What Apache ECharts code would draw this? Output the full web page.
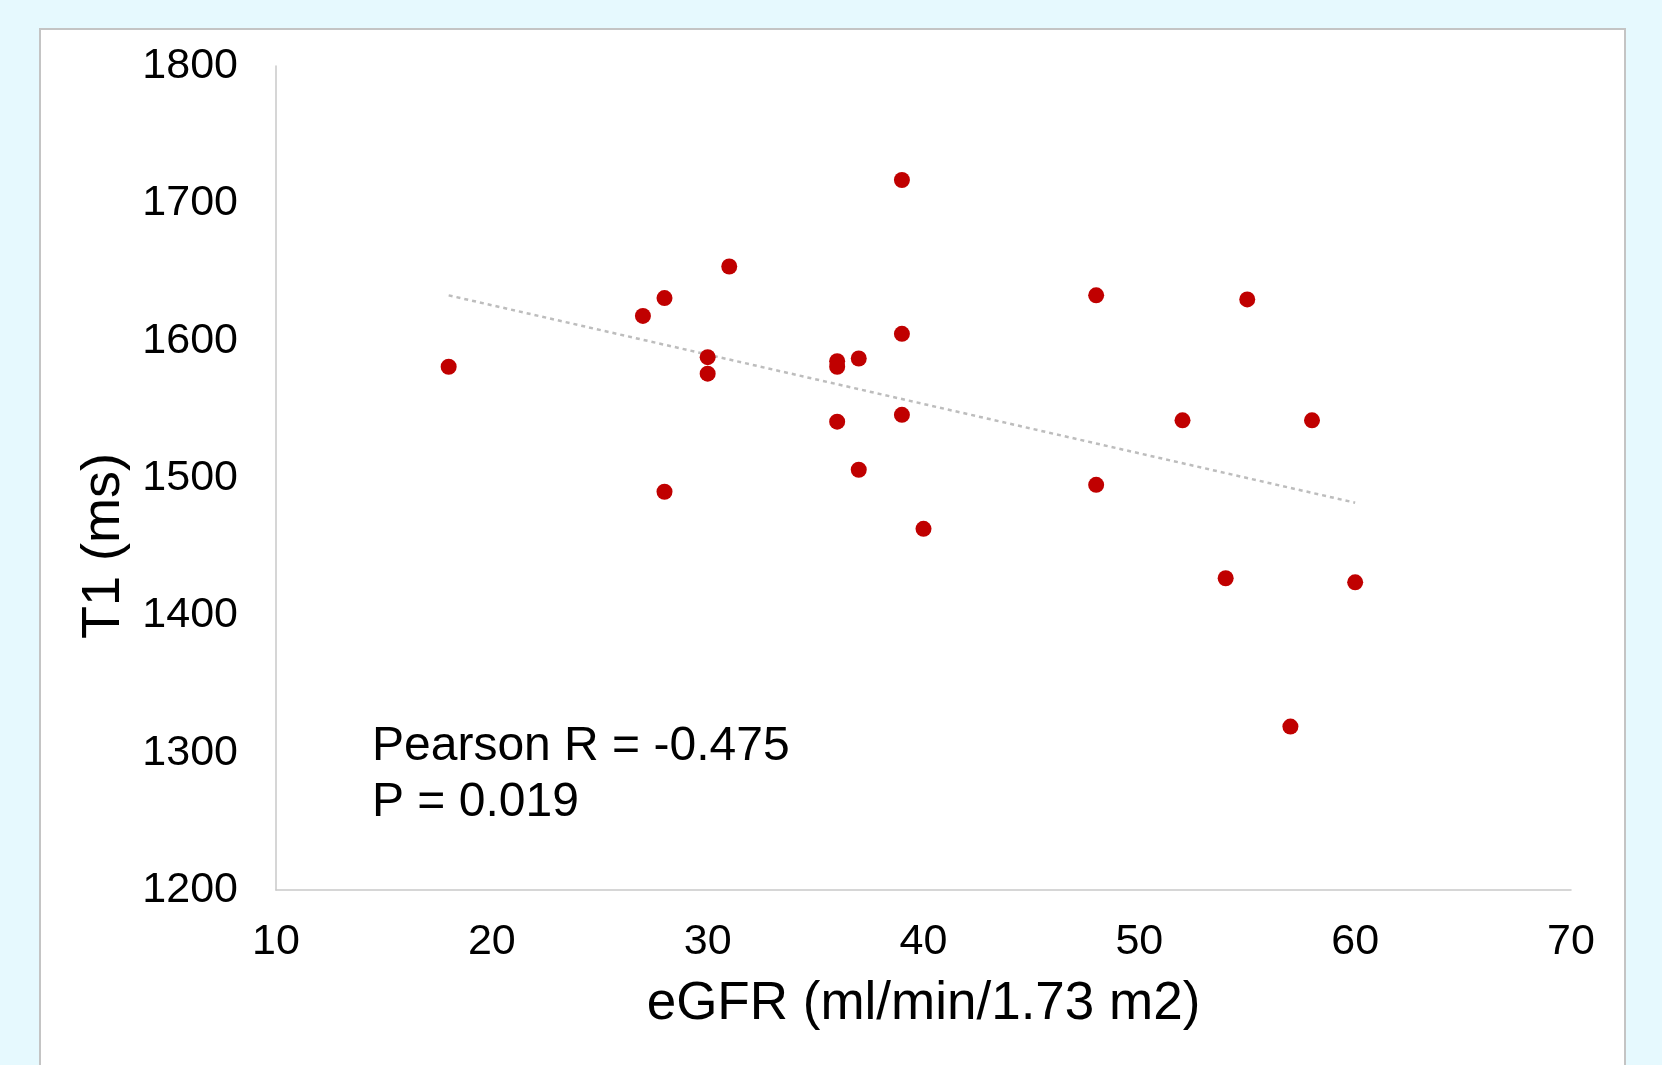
<!DOCTYPE html>
<html>
<head>
<meta charset="utf-8">
<title>T1 vs eGFR</title>
<script src="https://cdn.jsdelivr.net/npm/echarts@6/dist/echarts.min.js"></script>
<style>
    html, body { margin: 0; padding: 0; background: #e6f9fe; }
    #container { width: 1662px; height: 1065px; }
</style>
</head>
<body>
<div id="container"></div>
<script>
    // eGFR (x) and T1 (y) for each patient
    const eGFR = [18, 27, 28, 28, 31, 30, 30, 36, 36, 37, 36, 37, 39, 39, 39, 40, 48, 48, 52, 55, 54, 58, 60, 57];
    const t1 = [1581, 1618, 1631, 1490, 1654, 1588, 1576, 1585, 1581, 1587, 1541, 1506, 1717, 1605, 1546, 1463, 1633, 1495, 1542, 1630, 1427, 1542, 1424, 1319];

    // linear trend line ends
    const trendX = [18, 60];
    const trendY = [1633, 1482];

    const xTicks = [10, 20, 30, 40, 50, 60, 70];
    const yTicks = [1200, 1300, 1400, 1500, 1600, 1700, 1800];

    const statLines = ['Pearson R = -0.475', 'P = 0.019'];

    let points = [];
    for (let i = 0; i < eGFR.length; i++) {
        points.push([eGFR[i], t1[i]]);
    }
    let trend = trendX.map(function (x, i) { return [x, trendY[i]]; });

    const font = 'Liberation Sans, Arial, sans-serif';
    let myChart = echarts.init(document.getElementById('container'));

    let option = {
        animation: false,
        backgroundColor: 'transparent',
        grid: { left: 276, right: 91, top: 66, bottom: 175 },
        graphic: [{
            type: 'rect',
            z: -10,
            silent: true,
            shape: { x: 40, y: 29, width: 1585, height: 1100 },
            style: { fill: '#ffffff', stroke: '#c4c4c4', lineWidth: 2 }
        }, {
            type: 'text',
            left: 372,
            top: 719,
            style: {
                text: statLines.join('\n'),
                font: '48px ' + font,
                lineHeight: 56,
                fill: '#000'
            }
        }],
        xAxis: {
            type: 'value',
            min: xTicks[0],
            max: xTicks[xTicks.length - 1],
            interval: 10,
            name: 'eGFR (ml/min/1.73 m2)',
            nameLocation: 'middle',
            nameGap: 88,
            nameTextStyle: { fontFamily: font, fontSize: 53, color: '#000' },
            axisLine: { lineStyle: { color: '#c9c9c9', width: 1.5 } },
            axisTick: { show: false },
            splitLine: { show: false },
            axisLabel: { fontFamily: font, fontSize: 43, color: '#000', margin: 31 }
        },
        yAxis: {
            type: 'value',
            min: yTicks[0],
            max: yTicks[yTicks.length - 1],
            interval: 100,
            name: 'T1 (ms)',
            nameLocation: 'middle',
            nameGap: 131,
            nameTextStyle: {
                fontFamily: font, fontSize: 54, color: '#000',
                padding: [0, 136, 0, 0]
            },
            axisLine: { show: true, lineStyle: { color: '#c9c9c9', width: 1.5 } },
            axisTick: { show: false },
            splitLine: { show: false },
            axisLabel: {
                fontFamily: font, fontSize: 43, color: '#000', margin: 38,
                formatter: function (v) { return String(v); }
            }
        },
        series: [{
            name: 'trend',
            type: 'line',
            data: trend,
            symbol: 'none',
            z: 1,
            lineStyle: { color: '#bdbdbd', width: 2.5, type: [4, 4] }
        }, {
            name: 'T1',
            type: 'scatter',
            data: points,
            symbolSize: 16,
            z: 2,
            itemStyle: { color: '#c00000', opacity: 1 }
        }]
    };

    myChart.setOption(option);
</script>
</body>
</html>
